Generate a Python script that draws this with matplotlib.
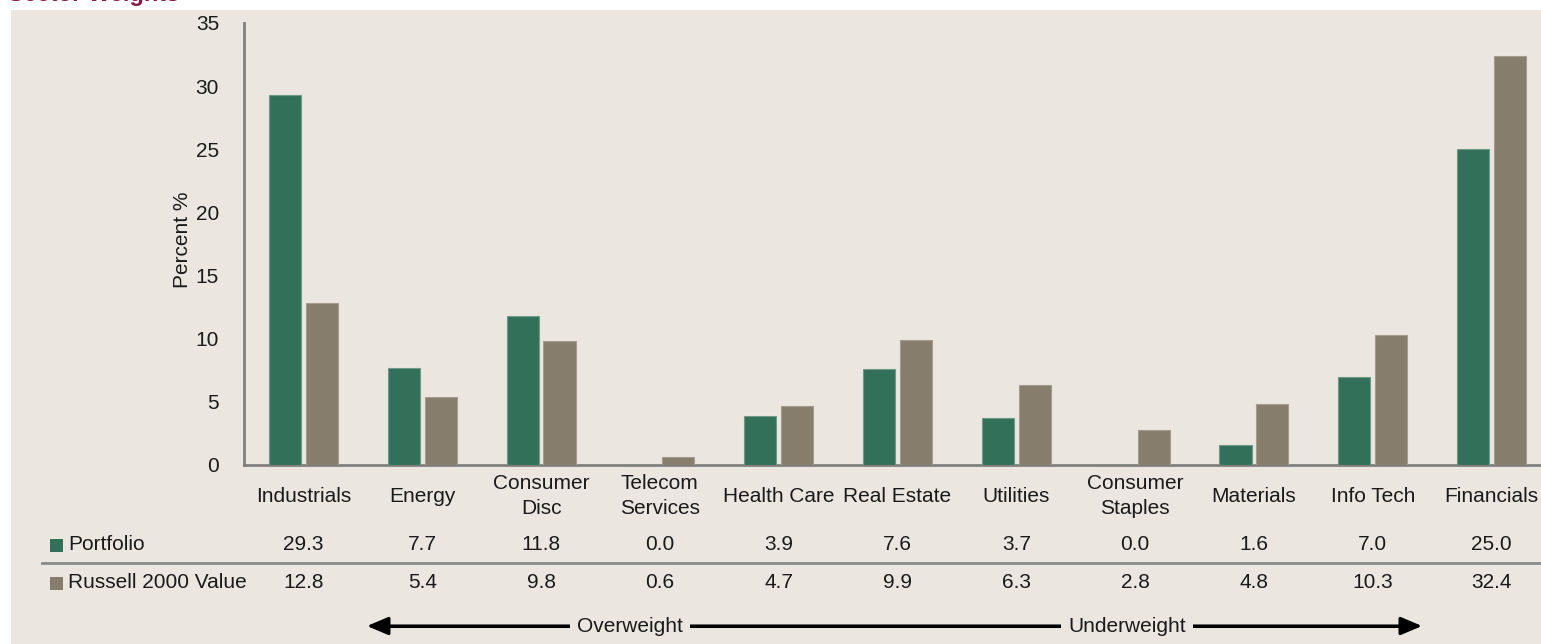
import matplotlib.pyplot as plt
import matplotlib.transforms as mtransforms
from matplotlib.patches import Rectangle
import numpy as np

plt.rcParams['font.family'] = ['Liberation Sans', 'DejaVu Sans']

sectors = ['Industrials', 'Energy', 'Consumer\nDisc', 'Telecom\nServices', 'Health Care',
           'Real Estate', 'Utilities', 'Consumer\nStaples', 'Materials', 'Info Tech', 'Financials']
portfolio = [29.3, 7.7, 11.8, 0.0, 3.9, 7.6, 3.7, 0.0, 1.6, 7.0, 25.0]
russell = [12.8, 5.4, 9.8, 0.6, 4.7, 9.9, 6.3, 2.8, 4.8, 10.3, 32.4]
series_names = ['Portfolio', 'Russell 2000 Value']
yticks = [0, 5, 10, 15, 20, 25, 30, 35]

green = '#33705A'
taupe = '#877D6C'
bg = '#EBE7E0'
txt = '#1a1a1a'
fs = 15
W, H = 1541, 644

fig = plt.figure(figsize=(W / 100, H / 100), dpi=100, facecolor='white')

def fx(px):
    return px / W

def fy(py):
    return 1 - py / H

# background panel
fig.patches.append(Rectangle((fx(11), 0), 1 - fx(11), fy(10), transform=fig.transFigure,
                             facecolor=bg, edgecolor='none', zorder=-5))

fig.text(fx(8), fy(1), 'Sector Weights', color='#8B1745', fontsize=17, fontweight='bold',
         va='baseline', ha='left')

left, right, top, bottom = 244, 1551, 23, 465
ax = fig.add_axes([fx(left), fy(bottom), fx(right) - fx(left), fy(top) - fy(bottom)])
ax.set_facecolor('none')

x = np.arange(len(sectors))
w = 0.27
off = 0.155
ax.bar(x - off, portfolio, w, color=green, edgecolor='#6E9A86', linewidth=0.8, zorder=3)
ax.bar(x + off, russell, w, color=taupe, edgecolor='#A59C8E', linewidth=0.8, zorder=3)

ax.set_xlim(-0.5, len(sectors) - 0.5)
ax.set_ylim(0, 35)
ax.set_yticks(yticks)
ax.set_yticklabels([str(t) for t in yticks], fontsize=fs, color=txt)
ax.tick_params(axis='y', length=0, pad=18)
ax.set_xticks([])
for s in ['top', 'right']:
    ax.spines[s].set_visible(False)
for s in ['left', 'bottom']:
    ax.spines[s].set_color('#808080')
    ax.spines[s].set_linewidth(2)

fig.text(fx(183), fy(240), 'Percent %', rotation=90, fontsize=fs, color=txt,
         ha='center', va='center')

trans = mtransforms.blended_transform_factory(ax.transData, fig.transFigure)

# category labels
for i, name in enumerate(sectors):
    ax.text(i, fy(496), name, transform=trans, ha='center', va='center', fontsize=fs,
            color=txt, linespacing=1.45)

# data table
row_y = [545, 583]
for vals, ry in zip([portfolio, russell], row_y):
    for i, v in enumerate(vals):
        ax.text(i, fy(ry), f'{v:.1f}', transform=trans, ha='center', va='center',
                fontsize=fs, color=txt)

for name, col, ry in zip(series_names, [green, taupe], row_y):
    fig.patches.append(Rectangle((fx(50), fy(ry + 7)), fx(13), 13 / H, transform=fig.transFigure,
                                 facecolor=col, edgecolor='none'))
    fig.text(fx(68), fy(ry), name, fontsize=fs, color=txt, ha='left', va='center')

fig.add_artist(plt.Line2D([fx(42), 1], [fy(563), fy(563)], transform=fig.transFigure,
                          color='#8a8a8a', linewidth=2))

# over/underweight arrow
ay = fy(626)
fig.add_artist(plt.Line2D([fx(380), fx(1409)], [ay, ay], transform=fig.transFigure,
                          color='black', linewidth=2.2))
ax.annotate('', xy=(fx(367), ay), xytext=(fx(1422), ay), xycoords='figure fraction',
            textcoords='figure fraction', annotation_clip=False,
            arrowprops=dict(arrowstyle='<|-|>,head_length=1.3,head_width=0.55', color='black',
                            lw=2.2, shrinkA=0, shrinkB=0))
for label, cx in [('Overweight', 630), ('Underweight', 1127)]:
    fig.text(fx(cx), ay, label, fontsize=fs, color=txt, ha='center', va='center', zorder=5,
             bbox=dict(facecolor=bg, edgecolor='none', pad=5))

fig.savefig('out.png', dpi=100, facecolor='white')
